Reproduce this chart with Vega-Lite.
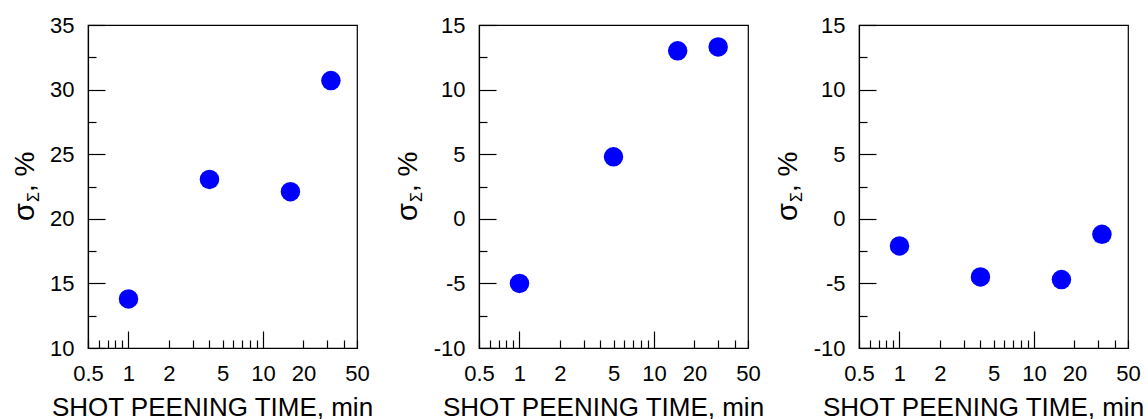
{
  "$schema": "https://vega.github.io/schema/vega-lite/v6.json",
  "padding": {"left": 9, "top": 13, "right": 0, "bottom": 0},
  "background": "white",
  "config": {
    "view": {"stroke": "#000", "strokeWidth": 1.2},
    "axis": {
      "labelFont": "Liberation Sans", "labelFontSize": 22, "labelColor": "#000",
      "titleFont": "Liberation Sans", "titleFontSize": 26, "titleFontWeight": "normal", "titleColor": "#000",
      "domainColor": "#000", "domainWidth": 1.2, "tickColor": "#000", "tickWidth": 1.2,
      "grid": false, "labelOverlap": false, "labelFlush": false, "labelBound": false
    }
  },
  "datasets": {
    "pts": [
      {"panel": 1, "time": 1, "sigma": 13.8},
      {"panel": 1, "time": 4, "sigma": 23.05},
      {"panel": 1, "time": 16, "sigma": 22.1},
      {"panel": 1, "time": 32, "sigma": 30.7},
      {"panel": 2, "time": 1, "sigma": -5.0},
      {"panel": 2, "time": 5, "sigma": 4.8},
      {"panel": 2, "time": 15, "sigma": 13.0},
      {"panel": 2, "time": 30, "sigma": 13.3},
      {"panel": 3, "time": 1, "sigma": -2.1},
      {"panel": 3, "time": 4, "sigma": -4.5},
      {"panel": 3, "time": 16, "sigma": -4.7},
      {"panel": 3, "time": 32, "sigma": -1.2}
    ]
  },
  "bounds": "flush",
  "spacing": 122,
  "hconcat": [
    {
      "width": 269, "height": 323,
      "data": {"name": "pts"},
      "transform": [{"filter": "datum.panel == 1"}],
      "encoding": {
        "x": {"field": "time", "type": "quantitative",
          "scale": {"type": "log", "domain": [0.5, 50], "nice": false},
          "axis": {"values": [0.5,0.6,0.7,0.8,0.9,1,2,3,4,5,6,7,8,9,10,20,30,40,50],
            "labelExpr": "indexof([0.5,1,2,5,10,20,50], datum.value) >= 0 ? datum.value + '' : ''",
            "tickSize": {"condition": {"test": "datum.value == 1 || datum.value == 10", "value": -17}, "value": -8},
            "labelPadding": {"condition": {"test": "datum.value == 1 || datum.value == 10", "value": 32}, "value": 23},
            "title": "SHOT PEENING TIME, min", "titlePadding": 10, "titleX": 124}}
      },
      "layer": [
        {
          "mark": {"type": "circle", "size": 380, "color": "#0000ff", "opacity": 1},
          "encoding": {
            "y": {"field": "sigma", "type": "quantitative",
              "scale": {"domain": [10, 35], "nice": false, "zero": false},
              "axis": {"orient": "left", "values": [10,12.5,15,17.5,20,22.5,25,27.5,30,32.5,35],
                "labelExpr": "datum.value % 5 == 0 ? datum.value + '' : ''",
                "tickSize": {"condition": {"test": "datum.value % 5 == 0", "value": -17}, "value": -8},
                "labelPadding": {"condition": {"test": "datum.value % 5 == 0", "value": 31}, "value": 22},
                "title": "σ", "titleFontSize": 29, "titleAngle": 270, "titleAlign": "left", "titleBaseline": "alphabetic",
                "titleX": -54.5, "titleY": 195.5}}
          }
        },
        {
          "mark": {"type": "circle", "size": 380, "color": "#0000ff", "opacity": 0},
          "encoding": {
            "y": {"field": "sigma", "type": "quantitative",
              "scale": {"domain": [10, 35], "nice": false, "zero": false},
              "axis": {"orient": "left", "labels": false, "ticks": false, "domain": false,
                "title": "Σ", "titleFontSize": 16, "titleAngle": 270, "titleAlign": "left", "titleBaseline": "alphabetic",
                "titleX": -49.2, "titleY": 176.5}}
          }
        },
        {
          "mark": {"type": "circle", "size": 380, "color": "#0000ff", "opacity": 0},
          "encoding": {
            "y": {"field": "sigma", "type": "quantitative",
              "scale": {"domain": [10, 35], "nice": false, "zero": false},
              "axis": {"orient": "left", "labels": false, "ticks": false, "domain": false,
                "title": ", %", "titleFontSize": 28, "titleAngle": 270, "titleAlign": "left", "titleBaseline": "alphabetic",
                "titleX": -54.5, "titleY": 166.5}}
          }
        }
      ],
      "resolve": {"axis": {"y": "independent"}}
    },
    {
      "spacing": 111,
      "bounds": "flush",
      "hconcat": [
        {
          "width": 269, "height": 323,
          "data": {"name": "pts"},
          "transform": [{"filter": "datum.panel == 2"}],
          "encoding": {
            "x": {"field": "time", "type": "quantitative",
              "scale": {"type": "log", "domain": [0.5, 50], "nice": false},
              "axis": {"values": [0.5,0.6,0.7,0.8,0.9,1,2,3,4,5,6,7,8,9,10,20,30,40,50],
                "labelExpr": "indexof([0.5,1,2,5,10,20,50], datum.value) >= 0 ? datum.value + '' : ''",
                "tickSize": {"condition": {"test": "datum.value == 1 || datum.value == 10", "value": -17}, "value": -8},
                "labelPadding": {"condition": {"test": "datum.value == 1 || datum.value == 10", "value": 32}, "value": 23},
                "title": "SHOT PEENING TIME, min", "titlePadding": 10, "titleX": 124}}
          },
          "layer": [
            {
              "mark": {"type": "circle", "size": 380, "color": "#0000ff", "opacity": 1},
              "encoding": {
                "y": {"field": "sigma", "type": "quantitative",
                  "scale": {"domain": [-10, 15], "nice": false, "zero": false},
                  "axis": {"orient": "left", "values": [-10,-7.5,-5,-2.5,0,2.5,5,7.5,10,12.5,15],
                    "labelExpr": "datum.value % 5 == 0 ? datum.value + '' : ''",
                    "tickSize": {"condition": {"test": "datum.value % 5 == 0", "value": -17}, "value": -8},
                    "labelPadding": {"condition": {"test": "datum.value % 5 == 0", "value": 31}, "value": 22},
                    "title": "σ", "titleFontSize": 29, "titleAngle": 270, "titleAlign": "left", "titleBaseline": "alphabetic",
                    "titleX": -62.7, "titleY": 195.5}}
              }
            },
            {
              "mark": {"type": "circle", "size": 380, "color": "#0000ff", "opacity": 0},
              "encoding": {
                "y": {"field": "sigma", "type": "quantitative",
                  "scale": {"domain": [-10, 15], "nice": false, "zero": false},
                  "axis": {"orient": "left", "labels": false, "ticks": false, "domain": false,
                    "title": "Σ", "titleFontSize": 16, "titleAngle": 270, "titleAlign": "left", "titleBaseline": "alphabetic",
                    "titleX": -57.4, "titleY": 176.5}}
              }
            },
            {
              "mark": {"type": "circle", "size": 380, "color": "#0000ff", "opacity": 0},
              "encoding": {
                "y": {"field": "sigma", "type": "quantitative",
                  "scale": {"domain": [-10, 15], "nice": false, "zero": false},
                  "axis": {"orient": "left", "labels": false, "ticks": false, "domain": false,
                    "title": ", %", "titleFontSize": 28, "titleAngle": 270, "titleAlign": "left", "titleBaseline": "alphabetic",
                    "titleX": -62.7, "titleY": 166.5}}
              }
            }
          ],
          "resolve": {"axis": {"y": "independent"}}
        },
        {
          "width": 269, "height": 323,
          "data": {"name": "pts"},
          "transform": [{"filter": "datum.panel == 3"}],
          "encoding": {
            "x": {"field": "time", "type": "quantitative",
              "scale": {"type": "log", "domain": [0.5, 50], "nice": false},
              "axis": {"values": [0.5,0.6,0.7,0.8,0.9,1,2,3,4,5,6,7,8,9,10,20,30,40,50],
                "labelExpr": "indexof([0.5,1,2,5,10,20,50], datum.value) >= 0 ? datum.value + '' : ''",
                "tickSize": {"condition": {"test": "datum.value == 1 || datum.value == 10", "value": -17}, "value": -8},
                "labelPadding": {"condition": {"test": "datum.value == 1 || datum.value == 10", "value": 32}, "value": 23},
                "title": "SHOT PEENING TIME, min", "titlePadding": 10, "titleX": 124}}
          },
          "layer": [
            {
              "mark": {"type": "circle", "size": 380, "color": "#0000ff", "opacity": 1},
              "encoding": {
                "y": {"field": "sigma", "type": "quantitative",
                  "scale": {"domain": [-10, 15], "nice": false, "zero": false},
                  "axis": {"orient": "left", "values": [-10,-7.5,-5,-2.5,0,2.5,5,7.5,10,12.5,15],
                    "labelExpr": "datum.value % 5 == 0 ? datum.value + '' : ''",
                    "tickSize": {"condition": {"test": "datum.value % 5 == 0", "value": -17}, "value": -8},
                    "labelPadding": {"condition": {"test": "datum.value % 5 == 0", "value": 31}, "value": 22},
                    "title": "σ", "titleFontSize": 29, "titleAngle": 270, "titleAlign": "left", "titleBaseline": "alphabetic",
                    "titleX": -62.7, "titleY": 195.5}}
              }
            },
            {
              "mark": {"type": "circle", "size": 380, "color": "#0000ff", "opacity": 0},
              "encoding": {
                "y": {"field": "sigma", "type": "quantitative",
                  "scale": {"domain": [-10, 15], "nice": false, "zero": false},
                  "axis": {"orient": "left", "labels": false, "ticks": false, "domain": false,
                    "title": "Σ", "titleFontSize": 16, "titleAngle": 270, "titleAlign": "left", "titleBaseline": "alphabetic",
                    "titleX": -57.4, "titleY": 176.5}}
              }
            },
            {
              "mark": {"type": "circle", "size": 380, "color": "#0000ff", "opacity": 0},
              "encoding": {
                "y": {"field": "sigma", "type": "quantitative",
                  "scale": {"domain": [-10, 15], "nice": false, "zero": false},
                  "axis": {"orient": "left", "labels": false, "ticks": false, "domain": false,
                    "title": ", %", "titleFontSize": 28, "titleAngle": 270, "titleAlign": "left", "titleBaseline": "alphabetic",
                    "titleX": -62.7, "titleY": 166.5}}
              }
            }
          ],
          "resolve": {"axis": {"y": "independent"}}
        }
      ]
    }
  ]
}
